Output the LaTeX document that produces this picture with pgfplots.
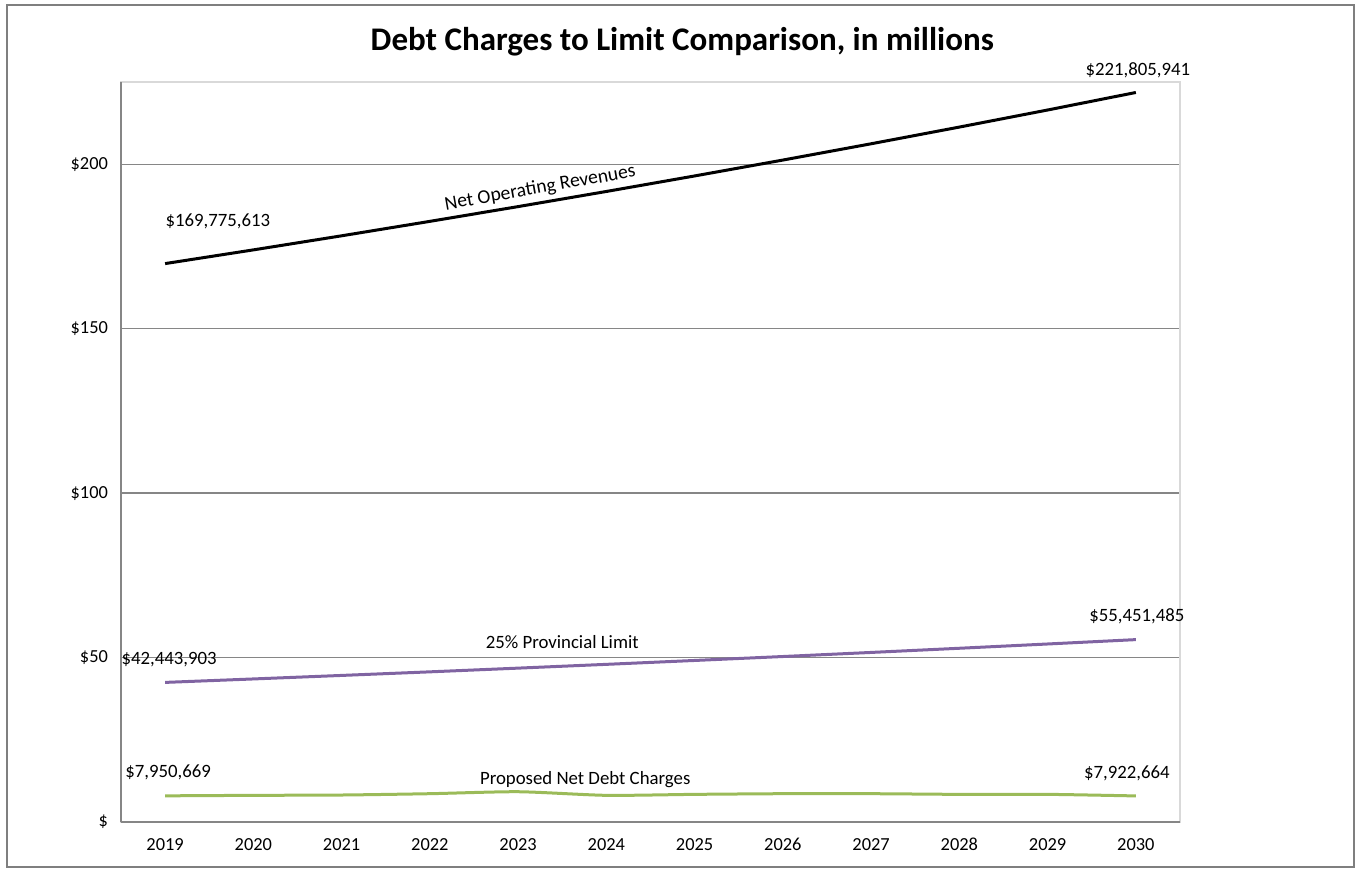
\documentclass[border=0pt]{standalone}
\usepackage{pgfplots}
\pgfplotsset{compat=1.18}
\usepackage{fontspec}
\setmainfont{Carlito}
\definecolor{gridgray}{HTML}{868686}
\definecolor{boxgray}{HTML}{D9D9D9}
\definecolor{framegray}{HTML}{7F7F7F}
\definecolor{norblack}{HTML}{000000}
\definecolor{limpurple}{HTML}{8064A2}
\definecolor{debtgreen}{HTML}{9BBB59}
\begin{document}
\begin{tikzpicture}
\begin{axis}[
  scale only axis,
  width=529.5pt, height=370pt,
  xmin=2018.5, xmax=2030.5,
  ymin=0, ymax=225,
  xtick={2019,2020,2021,2022,2023,2024,2025,2026,2027,2028,2029,2030},
  xticklabels={2019,2020,2021,2022,2023,2024,2025,2026,2027,2028,2029,2030},
  ytick={0,50,100,150,200},
  yticklabels={\$,\$50,\$100,\$150,\$200},
  /pgf/number format/assume math mode=true,
  tick style={draw=none},
  ymajorgrids,
  grid style={gridgray, line width=0.7pt},
  axis line style={boxgray, line width=0.6pt},
  ticklabel style={font=\fontsize{9.2pt}{11pt}\selectfont},
  xticklabel style={yshift=-4pt, text height=6.5pt, text depth=0pt},
  yticklabel style={xshift=-3pt},
  clip=false,
]
\addplot[norblack, line width=1.5pt] coordinates {
 (2019,169.78) (2020,173.95) (2021,178.23) (2022,182.62) (2023,187.11) (2024,191.71)
 (2025,196.43) (2026,201.26) (2027,206.21) (2028,211.29) (2029,216.48) (2030,221.81)};
\addplot[limpurple, line width=1.5pt] coordinates {
 (2019,42.44) (2020,43.49) (2021,44.56) (2022,45.65) (2023,46.78) (2024,47.93)
 (2025,49.11) (2026,50.31) (2027,51.55) (2028,52.82) (2029,54.12) (2030,55.45)};
\addplot[debtgreen, line width=1.5pt, smooth, tension=0.4] coordinates {
 (2019,7.95) (2020,8.1) (2021,8.2) (2022,8.6) (2023,9.2) (2024,8.1)
 (2025,8.4) (2026,8.6) (2027,8.6) (2028,8.4) (2029,8.4) (2030,7.92)};
% axis lines left & bottom
\draw[gridgray, line width=0.7pt] (rel axis cs:0,0) -- (rel axis cs:0,1);
\draw[gridgray, line width=0.9pt] (rel axis cs:0,0) -- (rel axis cs:1,0);
% data labels
\begin{scope}[every node/.style={font=\fontsize{9.4pt}{11pt}\selectfont, inner sep=0pt}]
\node[anchor=west] at ([yshift=21pt]axis cs:2019,169.78) {\$169,775,613};
\node at ([yshift=11pt,xshift=1pt]axis cs:2030,221.81) {\$221,805,941};
\node at ([yshift=11.5pt,xshift=2pt]axis cs:2019,42.44) {\$42,443,903};
\node at ([yshift=11.5pt,xshift=0.5pt]axis cs:2030,55.45) {\$55,451,485};
\node at ([yshift=11.5pt,xshift=1.5pt]axis cs:2019,7.95) {\$7,950,669};
\node at ([yshift=11.5pt,xshift=-4.5pt]axis cs:2030,7.92) {\$7,922,664};
\node[rotate=10, font=\fontsize{9.8pt}{11pt}\selectfont] at (axis cs:2023.25,192.7) {Net Operating Revenues};
\node at (axis cs:2023.5,54.7) {25\% Provincial Limit};
\node at (axis cs:2023.76,12.8) {Proposed Net Debt Charges};
\end{scope}
\node[font=\bfseries\fontsize{16.5pt}{19pt}\selectfont] at (rel axis cs:0.53,1.055) {Debt Charges to Limit Comparison, in millions};
\end{axis}
\draw[framegray, line width=1.1pt] ([xshift=-57pt,yshift=-22.5pt]current axis.south west) rectangle ([xshift=87pt,yshift=38.5pt]current axis.north east);
\pgfresetboundingbox
\useasboundingbox ([xshift=-60.5pt,yshift=-24pt]current axis.south west) rectangle ([xshift=88pt,yshift=41pt]current axis.north east);
\end{tikzpicture}
\end{document}
